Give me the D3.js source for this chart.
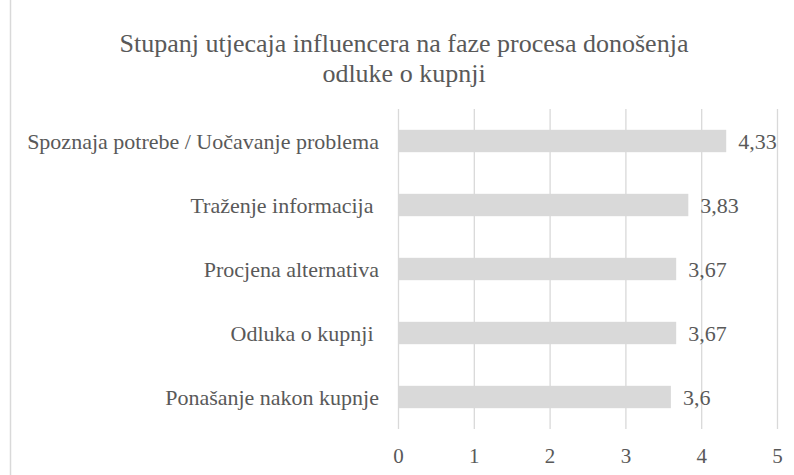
<!DOCTYPE html>
<html><head><meta charset="utf-8">
<script src="https://cdn.jsdelivr.net/npm/d3@7"></script>
<style>body{margin:0;background:#fff;}</style>
</head><body>
<svg id="c" width="794" height="475" font-family="Liberation Serif"></svg>
<script>
const categories = ["Spoznaja potrebe / Uočavanje problema","Traženje informacija ","Procjena alternativa","Odluka o kupnji ","Ponašanje nakon kupnje"];
const values = [4.33, 3.83, 3.67, 3.67, 3.6];
const valueLabels = ["4,33","3,83","3,67","3,67","3,6"];
const ticks = [0,1,2,3,4,5];
const titleLines = ["Stupanj utjecaja influencera na faze procesa donošenja","odluke o kupnji"];

(function(){
const svg = d3.select("#c");
const FONT = "Liberation Serif";
const textColor = "#595959";
const mLeft = 398, mRight = 777, mTop = 109, mBottom = 429;
const x = d3.scaleLinear().domain([0,5]).range([mLeft,mRight]);
const y = d3.scaleBand().domain(categories).range([mTop,mBottom]).paddingInner(0.65).paddingOuter(0.325);

svg.append("line").attr("x1",10.5).attr("x2",10.5).attr("y1",0).attr("y2",475).attr("stroke","#d9d9d9").attr("stroke-width",1.5);

svg.selectAll("text.title").data(titleLines).enter().append("text")
  .attr("class","title").attr("x",404).attr("y",(d,i)=>52+i*30)
  .attr("text-anchor","middle").attr("fill",textColor).attr("font-size",26)
  .attr("font-family",FONT).text(d=>d);

const xAxis = d3.axisBottom(x).tickValues(ticks).tickSize(-(mBottom-mTop)).tickFormat(d3.format("d")).tickPadding(19);
const gx = svg.append("g").attr("transform",`translate(0,${mBottom})`).call(xAxis);
gx.attr("font-family",FONT);
gx.select(".domain").remove();
gx.selectAll(".tick line").attr("stroke","#d9d9d9").attr("stroke-width",1.3);
gx.selectAll(".tick text").attr("fill",textColor).attr("font-size",21).attr("font-family",FONT);

svg.selectAll("rect.bar").data(values).enter().append("rect")
  .attr("class","bar").attr("x",x(0)).attr("y",(d,i)=>y(categories[i]))
  .attr("width",d=>x(d)-x(0)).attr("height",y.bandwidth()).attr("fill","#d9d9d9");

svg.selectAll("text.val").data(values).enter().append("text")
  .attr("class","val").attr("x",d=>x(d)+12).attr("y",(d,i)=>y(categories[i])+y.bandwidth()/2+7.5)
  .attr("fill",textColor).attr("font-size",22).attr("font-family",FONT).text((d,i)=>valueLabels[i]);

const yAxis = d3.axisLeft(y).tickSize(0).tickPadding(19);
const gy = svg.append("g").attr("transform",`translate(${mLeft},0)`).call(yAxis);
gy.attr("font-family",FONT);
gy.select(".domain").remove();
gy.selectAll(".tick text").attr("fill",textColor).attr("font-size",22).attr("dy","0.35em")
  .attr("font-family",FONT).attr("xml:space","preserve");
})();
</script>
</body></html>
